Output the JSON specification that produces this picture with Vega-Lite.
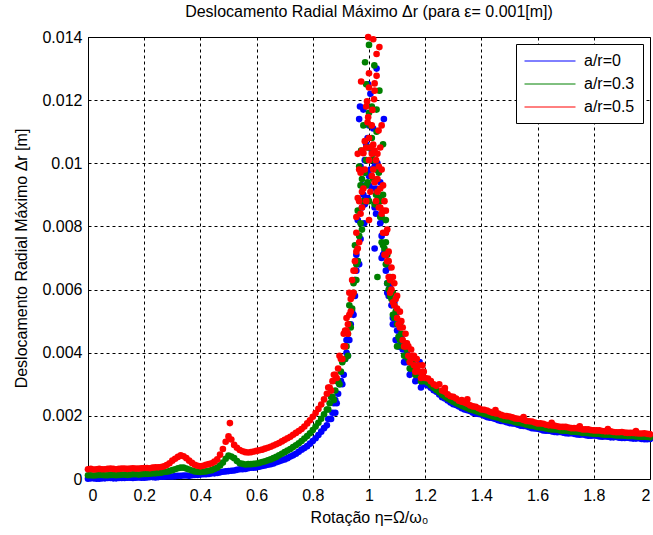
{
  "$schema": "https://vega.github.io/schema/vega-lite/v6.json",
  "autosize": {"type": "none"},
  "width": 562,
  "height": 442,
  "padding": {"left": 88, "top": 37, "right": 3, "bottom": 56},
  "background": "white",
  "title": {
    "text": "Deslocamento Radial Máximo Δr (para ε= 0.001[m])",
    "font": "Liberation Sans",
    "fontSize": 16,
    "fontWeight": "normal",
    "color": "black",
    "offset": 9
  },
  "config": {
    "view": {"stroke": "black", "strokeWidth": 1},
    "axis": {
      "domainColor": "black",
      "labelColor": "black",
      "titleColor": "black",
      "labelFont": "Liberation Sans",
      "titleFont": "Liberation Sans",
      "labelFontSize": 16,
      "titleFontSize": 16,
      "titleFontWeight": "normal",
      "ticks": false,
      "grid": true,
      "gridColor": "black",
      "gridDash": [3, 3],
      "gridOpacity": 1,
      "gridWidth": 1
    },
    "legend": {
      "labelFont": "Liberation Sans",
      "labelFontSize": 16,
      "labelColor": "black"
    }
  },
  "data": {
    "values": [
      {"eta":0,"dr":0.00001,"case":"a/r=0"},{"eta":0.02,"dr":0.00002,"case":"a/r=0"},{"eta":0.04,"dr":0.00001,"case":"a/r=0"},{"eta":0.06,"dr":0.00002,"case":"a/r=0"},{"eta":0.08,"dr":0.00003,"case":"a/r=0"},{"eta":0.1,"dr":0.00002,"case":"a/r=0"},{"eta":0.12,"dr":0.00003,"case":"a/r=0"},{"eta":0.14,"dr":0.00004,"case":"a/r=0"},{"eta":0.16,"dr":0.00003,"case":"a/r=0"},{"eta":0.18,"dr":0.00005,"case":"a/r=0"},{"eta":0.2,"dr":0.00004,"case":"a/r=0"},{"eta":0.22,"dr":0.00006,"case":"a/r=0"},{"eta":0.24,"dr":0.00005,"case":"a/r=0"},{"eta":0.26,"dr":0.00007,"case":"a/r=0"},{"eta":0.28,"dr":0.00008,"case":"a/r=0"},{"eta":0.3,"dr":0.00008,"case":"a/r=0"},{"eta":0.32,"dr":0.0001,"case":"a/r=0"},{"eta":0.34,"dr":0.00011,"case":"a/r=0"},{"eta":0.36,"dr":0.0001,"case":"a/r=0"},{"eta":0.38,"dr":0.00013,"case":"a/r=0"},{"eta":0.4,"dr":0.00014,"case":"a/r=0"},{"eta":0.42,"dr":0.00015,"case":"a/r=0"},{"eta":0.44,"dr":0.00018,"case":"a/r=0"},{"eta":0.46,"dr":0.00019,"case":"a/r=0"},{"eta":0.48,"dr":0.00023,"case":"a/r=0"},{"eta":0.5,"dr":0.00025,"case":"a/r=0"},{"eta":0.52,"dr":0.00027,"case":"a/r=0"},{"eta":0.54,"dr":0.00031,"case":"a/r=0"},{"eta":0.56,"dr":0.00032,"case":"a/r=0"},{"eta":0.58,"dr":0.00036,"case":"a/r=0"},{"eta":0.6,"dr":0.00037,"case":"a/r=0"},{"eta":0.62,"dr":0.00041,"case":"a/r=0"},{"eta":0.64,"dr":0.00045,"case":"a/r=0"},{"eta":0.66,"dr":0.00049,"case":"a/r=0"},{"eta":0.68,"dr":0.00056,"case":"a/r=0"},{"eta":0.7,"dr":0.00062,"case":"a/r=0"},{"eta":0.72,"dr":0.00071,"case":"a/r=0"},{"eta":0.74,"dr":0.0008,"case":"a/r=0"},{"eta":0.76,"dr":0.00093,"case":"a/r=0"},{"eta":0.78,"dr":0.00104,"case":"a/r=0"},{"eta":0.8,"dr":0.0012,"case":"a/r=0"},{"eta":0.82,"dr":0.00139,"case":"a/r=0"},{"eta":0.84,"dr":0.00161,"case":"a/r=0"},
      {"eta":0.01,"dr":0.00002,"case":"a/r=0"},{"eta":0.03,"dr":0.00001,"case":"a/r=0"},{"eta":0.05,"dr":0.00002,"case":"a/r=0"},{"eta":0.07,"dr":0.00003,"case":"a/r=0"},{"eta":0.09,"dr":0.00002,"case":"a/r=0"},{"eta":0.11,"dr":0.00003,"case":"a/r=0"},{"eta":0.13,"dr":0.00003,"case":"a/r=0"},{"eta":0.15,"dr":0.00004,"case":"a/r=0"},{"eta":0.17,"dr":0.00004,"case":"a/r=0"},{"eta":0.19,"dr":0.00004,"case":"a/r=0"},{"eta":0.21,"dr":0.00005,"case":"a/r=0"},{"eta":0.23,"dr":0.00006,"case":"a/r=0"},{"eta":0.25,"dr":0.00006,"case":"a/r=0"},{"eta":0.27,"dr":0.00007,"case":"a/r=0"},{"eta":0.29,"dr":0.00008,"case":"a/r=0"},{"eta":0.31,"dr":0.00009,"case":"a/r=0"},{"eta":0.33,"dr":0.0001,"case":"a/r=0"},{"eta":0.35,"dr":0.00011,"case":"a/r=0"},{"eta":0.37,"dr":0.00012,"case":"a/r=0"},{"eta":0.39,"dr":0.00013,"case":"a/r=0"},{"eta":0.41,"dr":0.00015,"case":"a/r=0"},{"eta":0.43,"dr":0.00016,"case":"a/r=0"},{"eta":0.45,"dr":0.00018,"case":"a/r=0"},{"eta":0.47,"dr":0.00021,"case":"a/r=0"},{"eta":0.49,"dr":0.00024,"case":"a/r=0"},{"eta":0.51,"dr":0.00026,"case":"a/r=0"},{"eta":0.53,"dr":0.00029,"case":"a/r=0"},{"eta":0.55,"dr":0.00031,"case":"a/r=0"},{"eta":0.57,"dr":0.00034,"case":"a/r=0"},{"eta":0.59,"dr":0.00036,"case":"a/r=0"},{"eta":0.61,"dr":0.00039,"case":"a/r=0"},{"eta":0.63,"dr":0.00043,"case":"a/r=0"},{"eta":0.65,"dr":0.00047,"case":"a/r=0"},{"eta":0.67,"dr":0.00053,"case":"a/r=0"},{"eta":0.69,"dr":0.00059,"case":"a/r=0"},{"eta":0.71,"dr":0.00066,"case":"a/r=0"},{"eta":0.73,"dr":0.00075,"case":"a/r=0"},{"eta":0.75,"dr":0.00086,"case":"a/r=0"},{"eta":0.77,"dr":0.00098,"case":"a/r=0"},{"eta":0.79,"dr":0.00112,"case":"a/r=0"},{"eta":0.81,"dr":0.00129,"case":"a/r=0"},{"eta":0.83,"dr":0.0015,"case":"a/r=0"},
      {"eta":0.85,"dr":0.0017,"case":"a/r=0"},{"eta":0.86,"dr":0.0019,"case":"a/r=0"},{"eta":0.87,"dr":0.0021,"case":"a/r=0"},{"eta":0.88,"dr":0.0025,"case":"a/r=0"},{"eta":0.89,"dr":0.0027,"case":"a/r=0"},{"eta":0.9,"dr":0.0031,"case":"a/r=0"},{"eta":0.91,"dr":0.0033,"case":"a/r=0"},{"eta":0.92,"dr":0.004,"case":"a/r=0"},{"eta":0.93,"dr":0.0044,"case":"a/r=0"},{"eta":0.94,"dr":0.0053,"case":"a/r=0"},{"eta":0.95,"dr":0.0058,"case":"a/r=0"},{"eta":0.96,"dr":0.0069,"case":"a/r=0"},{"eta":0.97,"dr":0.0076,"case":"a/r=0"},{"eta":0.98,"dr":0.009,"case":"a/r=0"},{"eta":0.99,"dr":0.0097,"case":"a/r=0"},{"eta":1,"dr":0.0112,"case":"a/r=0"},{"eta":1.01,"dr":0.0104,"case":"a/r=0"},{"eta":1.02,"dr":0.0099,"case":"a/r=0"},{"eta":1.03,"dr":0.0087,"case":"a/r=0"},{"eta":1.04,"dr":0.0081,"case":"a/r=0"},{"eta":1.05,"dr":0.0071,"case":"a/r=0"},{"eta":1.06,"dr":0.0066,"case":"a/r=0"},{"eta":1.07,"dr":0.0058,"case":"a/r=0"},{"eta":1.08,"dr":0.0055,"case":"a/r=0"},{"eta":1.09,"dr":0.0049,"case":"a/r=0"},{"eta":1.1,"dr":0.0047,"case":"a/r=0"},{"eta":1.11,"dr":0.0042,"case":"a/r=0"},{"eta":1.12,"dr":0.0041,"case":"a/r=0"},{"eta":1.13,"dr":0.0037,"case":"a/r=0"},{"eta":1.14,"dr":0.0037,"case":"a/r=0"},{"eta":1.15,"dr":0.0034,"case":"a/r=0"},{"eta":1.16,"dr":0.0034,"case":"a/r=0"},{"eta":1.17,"dr":0.0032,"case":"a/r=0"},{"eta":1.18,"dr":0.0032,"case":"a/r=0"},{"eta":1.19,"dr":0.003,"case":"a/r=0"},{"eta":1.2,"dr":0.003,"case":"a/r=0"},
      {"eta":0.855,"dr":0.0019,"case":"a/r=0"},{"eta":0.865,"dr":0.0019,"case":"a/r=0"},{"eta":0.875,"dr":0.0024,"case":"a/r=0"},{"eta":0.885,"dr":0.0024,"case":"a/r=0"},{"eta":0.895,"dr":0.003,"case":"a/r=0"},{"eta":0.905,"dr":0.003,"case":"a/r=0"},{"eta":0.915,"dr":0.0038,"case":"a/r=0"},{"eta":0.925,"dr":0.0039,"case":"a/r=0"},{"eta":0.945,"dr":0.0052,"case":"a/r=0"},{"eta":0.955,"dr":0.0066,"case":"a/r=0"},{"eta":0.965,"dr":0.0068,"case":"a/r=0"},{"eta":0.975,"dr":0.0086,"case":"a/r=0"},{"eta":0.985,"dr":0.0087,"case":"a/r=0"},{"eta":0.995,"dr":0.0108,"case":"a/r=0"},{"eta":1.005,"dr":0.0098,"case":"a/r=0"},{"eta":1.015,"dr":0.0101,"case":"a/r=0"},{"eta":1.025,"dr":0.0084,"case":"a/r=0"},{"eta":1.035,"dr":0.0088,"case":"a/r=0"},{"eta":1.045,"dr":0.007,"case":"a/r=0"},{"eta":1.055,"dr":0.0072,"case":"a/r=0"},{"eta":1.065,"dr":0.0059,"case":"a/r=0"},{"eta":1.075,"dr":0.0061,"case":"a/r=0"},{"eta":1.085,"dr":0.0049,"case":"a/r=0"},{"eta":1.095,"dr":0.0052,"case":"a/r=0"},{"eta":1.105,"dr":0.0042,"case":"a/r=0"},{"eta":1.115,"dr":0.0045,"case":"a/r=0"},{"eta":1.125,"dr":0.0037,"case":"a/r=0"},{"eta":1.135,"dr":0.004,"case":"a/r=0"},{"eta":1.145,"dr":0.0033,"case":"a/r=0"},{"eta":1.155,"dr":0.0036,"case":"a/r=0"},{"eta":1.165,"dr":0.0031,"case":"a/r=0"},{"eta":1.175,"dr":0.0034,"case":"a/r=0"},{"eta":1.185,"dr":0.0029,"case":"a/r=0"},{"eta":1.195,"dr":0.0031,"case":"a/r=0"},
      {"eta":1.22,"dr":0.00289,"case":"a/r=0"},{"eta":1.24,"dr":0.00276,"case":"a/r=0"},{"eta":1.26,"dr":0.00259,"case":"a/r=0"},{"eta":1.28,"dr":0.00249,"case":"a/r=0"},{"eta":1.3,"dr":0.00237,"case":"a/r=0"},{"eta":1.32,"dr":0.0023,"case":"a/r=0"},{"eta":1.34,"dr":0.0022,"case":"a/r=0"},{"eta":1.36,"dr":0.00215,"case":"a/r=0"},{"eta":1.38,"dr":0.00207,"case":"a/r=0"},{"eta":1.4,"dr":0.00204,"case":"a/r=0"},{"eta":1.42,"dr":0.00196,"case":"a/r=0"},{"eta":1.44,"dr":0.00193,"case":"a/r=0"},{"eta":1.46,"dr":0.00186,"case":"a/r=0"},{"eta":1.48,"dr":0.00183,"case":"a/r=0"},{"eta":1.5,"dr":0.00177,"case":"a/r=0"},{"eta":1.52,"dr":0.00175,"case":"a/r=0"},{"eta":1.54,"dr":0.00169,"case":"a/r=0"},{"eta":1.56,"dr":0.00167,"case":"a/r=0"},{"eta":1.58,"dr":0.00161,"case":"a/r=0"},{"eta":1.6,"dr":0.00159,"case":"a/r=0"},{"eta":1.62,"dr":0.00154,"case":"a/r=0"},{"eta":1.64,"dr":0.00153,"case":"a/r=0"},{"eta":1.66,"dr":0.00149,"case":"a/r=0"},{"eta":1.68,"dr":0.00149,"case":"a/r=0"},{"eta":1.7,"dr":0.00145,"case":"a/r=0"},{"eta":1.72,"dr":0.00145,"case":"a/r=0"},{"eta":1.74,"dr":0.00141,"case":"a/r=0"},{"eta":1.76,"dr":0.00141,"case":"a/r=0"},{"eta":1.78,"dr":0.00137,"case":"a/r=0"},{"eta":1.8,"dr":0.00138,"case":"a/r=0"},{"eta":1.82,"dr":0.00135,"case":"a/r=0"},{"eta":1.84,"dr":0.00135,"case":"a/r=0"},{"eta":1.86,"dr":0.00132,"case":"a/r=0"},{"eta":1.88,"dr":0.00133,"case":"a/r=0"},{"eta":1.9,"dr":0.0013,"case":"a/r=0"},{"eta":1.92,"dr":0.00131,"case":"a/r=0"},{"eta":1.94,"dr":0.00128,"case":"a/r=0"},{"eta":1.96,"dr":0.00129,"case":"a/r=0"},{"eta":1.98,"dr":0.00126,"case":"a/r=0"},{"eta":2,"dr":0.00127,"case":"a/r=0"},
      {"eta":1.21,"dr":0.00296,"case":"a/r=0"},{"eta":1.23,"dr":0.00281,"case":"a/r=0"},{"eta":1.25,"dr":0.00268,"case":"a/r=0"},{"eta":1.27,"dr":0.00255,"case":"a/r=0"},{"eta":1.29,"dr":0.00242,"case":"a/r=0"},{"eta":1.31,"dr":0.00234,"case":"a/r=0"},{"eta":1.33,"dr":0.00224,"case":"a/r=0"},{"eta":1.35,"dr":0.00218,"case":"a/r=0"},{"eta":1.37,"dr":0.0021,"case":"a/r=0"},{"eta":1.39,"dr":0.00206,"case":"a/r=0"},{"eta":1.41,"dr":0.002,"case":"a/r=0"},{"eta":1.43,"dr":0.00194,"case":"a/r=0"},{"eta":1.45,"dr":0.0019,"case":"a/r=0"},{"eta":1.47,"dr":0.00184,"case":"a/r=0"},{"eta":1.49,"dr":0.0018,"case":"a/r=0"},{"eta":1.51,"dr":0.00176,"case":"a/r=0"},{"eta":1.53,"dr":0.00172,"case":"a/r=0"},{"eta":1.55,"dr":0.00168,"case":"a/r=0"},{"eta":1.57,"dr":0.00164,"case":"a/r=0"},{"eta":1.59,"dr":0.0016,"case":"a/r=0"},{"eta":1.61,"dr":0.00157,"case":"a/r=0"},{"eta":1.63,"dr":0.00153,"case":"a/r=0"},{"eta":1.65,"dr":0.00151,"case":"a/r=0"},{"eta":1.67,"dr":0.00148,"case":"a/r=0"},{"eta":1.69,"dr":0.00147,"case":"a/r=0"},{"eta":1.71,"dr":0.00144,"case":"a/r=0"},{"eta":1.73,"dr":0.00143,"case":"a/r=0"},{"eta":1.75,"dr":0.0014,"case":"a/r=0"},{"eta":1.77,"dr":0.00139,"case":"a/r=0"},{"eta":1.79,"dr":0.00137,"case":"a/r=0"},{"eta":1.81,"dr":0.00137,"case":"a/r=0"},{"eta":1.83,"dr":0.00134,"case":"a/r=0"},{"eta":1.85,"dr":0.00134,"case":"a/r=0"},{"eta":1.87,"dr":0.00132,"case":"a/r=0"},{"eta":1.89,"dr":0.00131,"case":"a/r=0"},{"eta":1.91,"dr":0.0013,"case":"a/r=0"},{"eta":1.93,"dr":0.00129,"case":"a/r=0"},{"eta":1.95,"dr":0.00128,"case":"a/r=0"},{"eta":1.97,"dr":0.00127,"case":"a/r=0"},{"eta":1.99,"dr":0.00126,"case":"a/r=0"},
      {"eta":0.965,"dr":0.0114,"case":"a/r=0"},{"eta":0.968,"dr":0.0118,"case":"a/r=0"},{"eta":0.997,"dr":0.0125,"case":"a/r=0"},{"eta":1.005,"dr":0.0122,"case":"a/r=0"},{"eta":1.027,"dr":0.013,"case":"a/r=0"},{"eta":1.053,"dr":0.0114,"case":"a/r=0"},{"eta":0.99,"dr":0.0106,"case":"a/r=0"},{"eta":0.975,"dr":0.0093,"case":"a/r=0"},{"eta":1.012,"dr":0.0092,"case":"a/r=0"},{"eta":0.983,"dr":0.0081,"case":"a/r=0"},{"eta":1.02,"dr":0.0073,"case":"a/r=0"},{"eta":1.045,"dr":0.0077,"case":"a/r=0"},{"eta":0.955,"dr":0.0071,"case":"a/r=0"},{"eta":1.065,"dr":0.0062,"case":"a/r=0"},{"eta":0.935,"dr":0.0049,"case":"a/r=0"},{"eta":1.085,"dr":0.0051,"case":"a/r=0"},{"eta":1,"dr":0.0096,"case":"a/r=0"},{"eta":1.03,"dr":0.01,"case":"a/r=0"},{"eta":0.96,"dr":0.0082,"case":"a/r=0"},{"eta":1.095,"dr":0.0044,"case":"a/r=0"},{"eta":1.18,"dr":0.0037,"case":"a/r=0"},{"eta":0.88,"dr":0.0021,"case":"a/r=0"},{"eta":0.97,"dr":0.0099,"case":"a/r=0"},{"eta":0.995,"dr":0.0089,"case":"a/r=0"},{"eta":1.015,"dr":0.0111,"case":"a/r=0"},{"eta":1.04,"dr":0.0094,"case":"a/r=0"},{"eta":1.06,"dr":0.0078,"case":"a/r=0"},{"eta":0.98,"dr":0.0117,"case":"a/r=0"},{"eta":1.02,"dr":0.0086,"case":"a/r=0"},{"eta":0.985,"dr":0.0101,"case":"a/r=0"},{"eta":1,"dr":0.0093,"case":"a/r=0"},{"eta":1.025,"dr":0.0092,"case":"a/r=0"},{"eta":1.05,"dr":0.0082,"case":"a/r=0"},{"eta":0.95,"dr":0.0063,"case":"a/r=0"},{"eta":1.07,"dr":0.0067,"case":"a/r=0"},{"eta":1.09,"dr":0.0056,"case":"a/r=0"},{"eta":0.92,"dr":0.0044,"case":"a/r=0"},

      {"eta":0,"dr":0.00012,"case":"a/r=0.3"},{"eta":0.02,"dr":0.00011,"case":"a/r=0.3"},{"eta":0.04,"dr":0.00013,"case":"a/r=0.3"},{"eta":0.06,"dr":0.00012,"case":"a/r=0.3"},{"eta":0.08,"dr":0.00013,"case":"a/r=0.3"},{"eta":0.1,"dr":0.00012,"case":"a/r=0.3"},{"eta":0.12,"dr":0.00014,"case":"a/r=0.3"},{"eta":0.14,"dr":0.00013,"case":"a/r=0.3"},{"eta":0.16,"dr":0.00015,"case":"a/r=0.3"},{"eta":0.18,"dr":0.00014,"case":"a/r=0.3"},{"eta":0.2,"dr":0.00016,"case":"a/r=0.3"},{"eta":0.22,"dr":0.00017,"case":"a/r=0.3"},{"eta":0.24,"dr":0.00018,"case":"a/r=0.3"},{"eta":0.26,"dr":0.0002,"case":"a/r=0.3"},{"eta":0.28,"dr":0.00023,"case":"a/r=0.3"},{"eta":0.3,"dr":0.00028,"case":"a/r=0.3"},{"eta":0.32,"dr":0.00034,"case":"a/r=0.3"},{"eta":0.34,"dr":0.00036,"case":"a/r=0.3"},{"eta":0.36,"dr":0.0003,"case":"a/r=0.3"},{"eta":0.38,"dr":0.00024,"case":"a/r=0.3"},{"eta":0.4,"dr":0.00022,"case":"a/r=0.3"},{"eta":0.42,"dr":0.00024,"case":"a/r=0.3"},{"eta":0.44,"dr":0.00028,"case":"a/r=0.3"},{"eta":0.46,"dr":0.00036,"case":"a/r=0.3"},{"eta":0.48,"dr":0.00052,"case":"a/r=0.3"},{"eta":0.5,"dr":0.00074,"case":"a/r=0.3"},{"eta":0.52,"dr":0.00066,"case":"a/r=0.3"},{"eta":0.54,"dr":0.0005,"case":"a/r=0.3"},{"eta":0.56,"dr":0.00046,"case":"a/r=0.3"},{"eta":0.58,"dr":0.00047,"case":"a/r=0.3"},{"eta":0.6,"dr":0.00049,"case":"a/r=0.3"},{"eta":0.62,"dr":0.00054,"case":"a/r=0.3"},{"eta":0.64,"dr":0.00059,"case":"a/r=0.3"},{"eta":0.66,"dr":0.00066,"case":"a/r=0.3"},{"eta":0.68,"dr":0.00075,"case":"a/r=0.3"},{"eta":0.7,"dr":0.00085,"case":"a/r=0.3"},{"eta":0.72,"dr":0.00095,"case":"a/r=0.3"},{"eta":0.74,"dr":0.00107,"case":"a/r=0.3"},{"eta":0.76,"dr":0.0012,"case":"a/r=0.3"},{"eta":0.78,"dr":0.00136,"case":"a/r=0.3"},{"eta":0.8,"dr":0.00155,"case":"a/r=0.3"},{"eta":0.82,"dr":0.00178,"case":"a/r=0.3"},{"eta":0.84,"dr":0.00205,"case":"a/r=0.3"},
      {"eta":0.01,"dr":0.00012,"case":"a/r=0.3"},{"eta":0.03,"dr":0.00012,"case":"a/r=0.3"},{"eta":0.05,"dr":0.00013,"case":"a/r=0.3"},{"eta":0.07,"dr":0.00012,"case":"a/r=0.3"},{"eta":0.09,"dr":0.00013,"case":"a/r=0.3"},{"eta":0.11,"dr":0.00013,"case":"a/r=0.3"},{"eta":0.13,"dr":0.00014,"case":"a/r=0.3"},{"eta":0.15,"dr":0.00014,"case":"a/r=0.3"},{"eta":0.17,"dr":0.00015,"case":"a/r=0.3"},{"eta":0.19,"dr":0.00015,"case":"a/r=0.3"},{"eta":0.21,"dr":0.00016,"case":"a/r=0.3"},{"eta":0.23,"dr":0.00018,"case":"a/r=0.3"},{"eta":0.25,"dr":0.00019,"case":"a/r=0.3"},{"eta":0.27,"dr":0.00022,"case":"a/r=0.3"},{"eta":0.29,"dr":0.00025,"case":"a/r=0.3"},{"eta":0.31,"dr":0.00031,"case":"a/r=0.3"},{"eta":0.33,"dr":0.00036,"case":"a/r=0.3"},{"eta":0.35,"dr":0.00033,"case":"a/r=0.3"},{"eta":0.37,"dr":0.00027,"case":"a/r=0.3"},{"eta":0.39,"dr":0.00023,"case":"a/r=0.3"},{"eta":0.41,"dr":0.00023,"case":"a/r=0.3"},{"eta":0.43,"dr":0.00026,"case":"a/r=0.3"},{"eta":0.45,"dr":0.00032,"case":"a/r=0.3"},{"eta":0.47,"dr":0.00043,"case":"a/r=0.3"},{"eta":0.49,"dr":0.00064,"case":"a/r=0.3"},{"eta":0.51,"dr":0.00071,"case":"a/r=0.3"},{"eta":0.53,"dr":0.00057,"case":"a/r=0.3"},{"eta":0.55,"dr":0.00048,"case":"a/r=0.3"},{"eta":0.57,"dr":0.00047,"case":"a/r=0.3"},{"eta":0.59,"dr":0.00048,"case":"a/r=0.3"},{"eta":0.61,"dr":0.00051,"case":"a/r=0.3"},{"eta":0.63,"dr":0.00056,"case":"a/r=0.3"},{"eta":0.65,"dr":0.00062,"case":"a/r=0.3"},{"eta":0.67,"dr":0.0007,"case":"a/r=0.3"},{"eta":0.69,"dr":0.0008,"case":"a/r=0.3"},{"eta":0.71,"dr":0.0009,"case":"a/r=0.3"},{"eta":0.73,"dr":0.00101,"case":"a/r=0.3"},{"eta":0.75,"dr":0.00113,"case":"a/r=0.3"},{"eta":0.77,"dr":0.00128,"case":"a/r=0.3"},{"eta":0.79,"dr":0.00145,"case":"a/r=0.3"},{"eta":0.81,"dr":0.00166,"case":"a/r=0.3"},{"eta":0.83,"dr":0.00191,"case":"a/r=0.3"},
      {"eta":0.85,"dr":0.0022,"case":"a/r=0.3"},{"eta":0.86,"dr":0.0024,"case":"a/r=0.3"},{"eta":0.87,"dr":0.0026,"case":"a/r=0.3"},{"eta":0.88,"dr":0.0028,"case":"a/r=0.3"},{"eta":0.89,"dr":0.0031,"case":"a/r=0.3"},{"eta":0.9,"dr":0.0034,"case":"a/r=0.3"},{"eta":0.91,"dr":0.0038,"case":"a/r=0.3"},{"eta":0.92,"dr":0.0042,"case":"a/r=0.3"},{"eta":0.93,"dr":0.0049,"case":"a/r=0.3"},{"eta":0.94,"dr":0.0054,"case":"a/r=0.3"},{"eta":0.95,"dr":0.0063,"case":"a/r=0.3"},{"eta":0.96,"dr":0.0069,"case":"a/r=0.3"},{"eta":0.97,"dr":0.0081,"case":"a/r=0.3"},{"eta":0.98,"dr":0.0088,"case":"a/r=0.3"},{"eta":0.99,"dr":0.0101,"case":"a/r=0.3"},{"eta":1,"dr":0.0116,"case":"a/r=0.3"},{"eta":1.01,"dr":0.0108,"case":"a/r=0.3"},{"eta":1.02,"dr":0.0101,"case":"a/r=0.3"},{"eta":1.03,"dr":0.0091,"case":"a/r=0.3"},{"eta":1.04,"dr":0.0083,"case":"a/r=0.3"},{"eta":1.05,"dr":0.0074,"case":"a/r=0.3"},{"eta":1.06,"dr":0.0068,"case":"a/r=0.3"},{"eta":1.07,"dr":0.006,"case":"a/r=0.3"},{"eta":1.08,"dr":0.0057,"case":"a/r=0.3"},{"eta":1.09,"dr":0.0051,"case":"a/r=0.3"},{"eta":1.1,"dr":0.0049,"case":"a/r=0.3"},{"eta":1.11,"dr":0.0044,"case":"a/r=0.3"},{"eta":1.12,"dr":0.0042,"case":"a/r=0.3"},{"eta":1.13,"dr":0.0039,"case":"a/r=0.3"},{"eta":1.14,"dr":0.0038,"case":"a/r=0.3"},{"eta":1.15,"dr":0.0035,"case":"a/r=0.3"},{"eta":1.16,"dr":0.0035,"case":"a/r=0.3"},{"eta":1.17,"dr":0.0033,"case":"a/r=0.3"},{"eta":1.18,"dr":0.0033,"case":"a/r=0.3"},{"eta":1.19,"dr":0.0031,"case":"a/r=0.3"},{"eta":1.2,"dr":0.0031,"case":"a/r=0.3"},
      {"eta":0.855,"dr":0.0022,"case":"a/r=0.3"},{"eta":0.865,"dr":0.0026,"case":"a/r=0.3"},{"eta":0.875,"dr":0.0025,"case":"a/r=0.3"},{"eta":0.885,"dr":0.0031,"case":"a/r=0.3"},{"eta":0.895,"dr":0.003,"case":"a/r=0.3"},{"eta":0.905,"dr":0.0037,"case":"a/r=0.3"},{"eta":0.915,"dr":0.0038,"case":"a/r=0.3"},{"eta":0.925,"dr":0.0046,"case":"a/r=0.3"},{"eta":0.935,"dr":0.0048,"case":"a/r=0.3"},{"eta":0.945,"dr":0.0059,"case":"a/r=0.3"},{"eta":0.955,"dr":0.0063,"case":"a/r=0.3"},{"eta":0.965,"dr":0.0077,"case":"a/r=0.3"},{"eta":0.975,"dr":0.0079,"case":"a/r=0.3"},{"eta":0.985,"dr":0.0097,"case":"a/r=0.3"},{"eta":0.995,"dr":0.0105,"case":"a/r=0.3"},{"eta":1.005,"dr":0.0101,"case":"a/r=0.3"},{"eta":1.015,"dr":0.0103,"case":"a/r=0.3"},{"eta":1.025,"dr":0.009,"case":"a/r=0.3"},{"eta":1.035,"dr":0.0089,"case":"a/r=0.3"},{"eta":1.045,"dr":0.0075,"case":"a/r=0.3"},{"eta":1.055,"dr":0.0073,"case":"a/r=0.3"},{"eta":1.065,"dr":0.0062,"case":"a/r=0.3"},{"eta":1.075,"dr":0.0064,"case":"a/r=0.3"},{"eta":1.085,"dr":0.0052,"case":"a/r=0.3"},{"eta":1.095,"dr":0.0053,"case":"a/r=0.3"},{"eta":1.105,"dr":0.0045,"case":"a/r=0.3"},{"eta":1.115,"dr":0.0046,"case":"a/r=0.3"},{"eta":1.125,"dr":0.0039,"case":"a/r=0.3"},{"eta":1.135,"dr":0.0041,"case":"a/r=0.3"},{"eta":1.145,"dr":0.0035,"case":"a/r=0.3"},{"eta":1.155,"dr":0.0037,"case":"a/r=0.3"},{"eta":1.165,"dr":0.0033,"case":"a/r=0.3"},{"eta":1.175,"dr":0.0034,"case":"a/r=0.3"},{"eta":1.185,"dr":0.0031,"case":"a/r=0.3"},{"eta":1.195,"dr":0.0032,"case":"a/r=0.3"},
      {"eta":1.22,"dr":0.00297,"case":"a/r=0.3"},{"eta":1.24,"dr":0.00282,"case":"a/r=0.3"},{"eta":1.26,"dr":0.00267,"case":"a/r=0.3"},{"eta":1.28,"dr":0.00255,"case":"a/r=0.3"},{"eta":1.3,"dr":0.00245,"case":"a/r=0.3"},{"eta":1.32,"dr":0.00236,"case":"a/r=0.3"},{"eta":1.34,"dr":0.00228,"case":"a/r=0.3"},{"eta":1.36,"dr":0.0022,"case":"a/r=0.3"},{"eta":1.38,"dr":0.00215,"case":"a/r=0.3"},{"eta":1.4,"dr":0.00209,"case":"a/r=0.3"},{"eta":1.42,"dr":0.00204,"case":"a/r=0.3"},{"eta":1.44,"dr":0.00198,"case":"a/r=0.3"},{"eta":1.46,"dr":0.00194,"case":"a/r=0.3"},{"eta":1.48,"dr":0.00188,"case":"a/r=0.3"},{"eta":1.5,"dr":0.00185,"case":"a/r=0.3"},{"eta":1.52,"dr":0.0018,"case":"a/r=0.3"},{"eta":1.54,"dr":0.00177,"case":"a/r=0.3"},{"eta":1.56,"dr":0.00172,"case":"a/r=0.3"},{"eta":1.58,"dr":0.00169,"case":"a/r=0.3"},{"eta":1.6,"dr":0.00164,"case":"a/r=0.3"},{"eta":1.62,"dr":0.00162,"case":"a/r=0.3"},{"eta":1.64,"dr":0.00158,"case":"a/r=0.3"},{"eta":1.66,"dr":0.00157,"case":"a/r=0.3"},{"eta":1.68,"dr":0.00154,"case":"a/r=0.3"},{"eta":1.7,"dr":0.00153,"case":"a/r=0.3"},{"eta":1.72,"dr":0.0015,"case":"a/r=0.3"},{"eta":1.74,"dr":0.00149,"case":"a/r=0.3"},{"eta":1.76,"dr":0.00146,"case":"a/r=0.3"},{"eta":1.78,"dr":0.00145,"case":"a/r=0.3"},{"eta":1.8,"dr":0.00143,"case":"a/r=0.3"},{"eta":1.82,"dr":0.00143,"case":"a/r=0.3"},{"eta":1.84,"dr":0.0014,"case":"a/r=0.3"},{"eta":1.86,"dr":0.0014,"case":"a/r=0.3"},{"eta":1.88,"dr":0.00138,"case":"a/r=0.3"},{"eta":1.9,"dr":0.00138,"case":"a/r=0.3"},{"eta":1.92,"dr":0.00136,"case":"a/r=0.3"},{"eta":1.94,"dr":0.00136,"case":"a/r=0.3"},{"eta":1.96,"dr":0.00134,"case":"a/r=0.3"},{"eta":1.98,"dr":0.00134,"case":"a/r=0.3"},{"eta":2,"dr":0.00132,"case":"a/r=0.3"},
      {"eta":1.21,"dr":0.00305,"case":"a/r=0.3"},{"eta":1.23,"dr":0.00289,"case":"a/r=0.3"},{"eta":1.25,"dr":0.00275,"case":"a/r=0.3"},{"eta":1.27,"dr":0.00261,"case":"a/r=0.3"},{"eta":1.29,"dr":0.0025,"case":"a/r=0.3"},{"eta":1.31,"dr":0.0024,"case":"a/r=0.3"},{"eta":1.33,"dr":0.00232,"case":"a/r=0.3"},{"eta":1.35,"dr":0.00224,"case":"a/r=0.3"},{"eta":1.37,"dr":0.00218,"case":"a/r=0.3"},{"eta":1.39,"dr":0.00212,"case":"a/r=0.3"},{"eta":1.41,"dr":0.00206,"case":"a/r=0.3"},{"eta":1.43,"dr":0.00201,"case":"a/r=0.3"},{"eta":1.45,"dr":0.00196,"case":"a/r=0.3"},{"eta":1.47,"dr":0.00191,"case":"a/r=0.3"},{"eta":1.49,"dr":0.00186,"case":"a/r=0.3"},{"eta":1.51,"dr":0.00183,"case":"a/r=0.3"},{"eta":1.53,"dr":0.00178,"case":"a/r=0.3"},{"eta":1.55,"dr":0.00175,"case":"a/r=0.3"},{"eta":1.57,"dr":0.0017,"case":"a/r=0.3"},{"eta":1.59,"dr":0.00167,"case":"a/r=0.3"},{"eta":1.61,"dr":0.00163,"case":"a/r=0.3"},{"eta":1.63,"dr":0.0016,"case":"a/r=0.3"},{"eta":1.65,"dr":0.00157,"case":"a/r=0.3"},{"eta":1.67,"dr":0.00156,"case":"a/r=0.3"},{"eta":1.69,"dr":0.00153,"case":"a/r=0.3"},{"eta":1.71,"dr":0.00152,"case":"a/r=0.3"},{"eta":1.73,"dr":0.0015,"case":"a/r=0.3"},{"eta":1.75,"dr":0.00148,"case":"a/r=0.3"},{"eta":1.77,"dr":0.00146,"case":"a/r=0.3"},{"eta":1.79,"dr":0.00144,"case":"a/r=0.3"},{"eta":1.81,"dr":0.00143,"case":"a/r=0.3"},{"eta":1.83,"dr":0.00141,"case":"a/r=0.3"},{"eta":1.85,"dr":0.0014,"case":"a/r=0.3"},{"eta":1.87,"dr":0.00139,"case":"a/r=0.3"},{"eta":1.89,"dr":0.00138,"case":"a/r=0.3"},{"eta":1.91,"dr":0.00137,"case":"a/r=0.3"},{"eta":1.93,"dr":0.00136,"case":"a/r=0.3"},{"eta":1.95,"dr":0.00135,"case":"a/r=0.3"},{"eta":1.97,"dr":0.00134,"case":"a/r=0.3"},{"eta":1.99,"dr":0.00133,"case":"a/r=0.3"},
      {"eta":1,"dr":0.01375,"case":"a/r=0.3"},{"eta":0.986,"dr":0.0132,"case":"a/r=0.3"},{"eta":1.019,"dr":0.0131,"case":"a/r=0.3"},{"eta":1.037,"dr":0.0123,"case":"a/r=0.3"},{"eta":1.027,"dr":0.0117,"case":"a/r=0.3"},{"eta":1.005,"dr":0.0112,"case":"a/r=0.3"},{"eta":1.027,"dr":0.011,"case":"a/r=0.3"},{"eta":1.05,"dr":0.0106,"case":"a/r=0.3"},{"eta":0.972,"dr":0.0104,"case":"a/r=0.3"},{"eta":0.99,"dr":0.0093,"case":"a/r=0.3"},{"eta":1.015,"dr":0.0095,"case":"a/r=0.3"},{"eta":0.96,"dr":0.0085,"case":"a/r=0.3"},{"eta":1.04,"dr":0.0088,"case":"a/r=0.3"},{"eta":0.95,"dr":0.0074,"case":"a/r=0.3"},{"eta":1.06,"dr":0.0075,"case":"a/r=0.3"},{"eta":1.03,"dr":0.0064,"case":"a/r=0.3"},{"eta":0.945,"dr":0.0062,"case":"a/r=0.3"},{"eta":1.075,"dr":0.0058,"case":"a/r=0.3"},{"eta":0.93,"dr":0.0055,"case":"a/r=0.3"},{"eta":1.09,"dr":0.0055,"case":"a/r=0.3"},{"eta":1.1,"dr":0.0042,"case":"a/r=0.3"},{"eta":0.925,"dr":0.0039,"case":"a/r=0.3"},{"eta":0.97,"dr":0.0093,"case":"a/r=0.3"},{"eta":1,"dr":0.0088,"case":"a/r=0.3"},{"eta":1.02,"dr":0.0087,"case":"a/r=0.3"},{"eta":1.035,"dr":0.0097,"case":"a/r=0.3"},{"eta":1.05,"dr":0.009,"case":"a/r=0.3"},{"eta":0.98,"dr":0.0112,"case":"a/r=0.3"},{"eta":1.01,"dr":0.0118,"case":"a/r=0.3"},{"eta":0.965,"dr":0.0099,"case":"a/r=0.3"},{"eta":1.06,"dr":0.0082,"case":"a/r=0.3"},{"eta":0.99,"dr":0.0125,"case":"a/r=0.3"},{"eta":0.975,"dr":0.0095,"case":"a/r=0.3"},{"eta":0.995,"dr":0.0094,"case":"a/r=0.3"},{"eta":1.005,"dr":0.0105,"case":"a/r=0.3"},{"eta":1.025,"dr":0.0098,"case":"a/r=0.3"},{"eta":1.045,"dr":0.0083,"case":"a/r=0.3"},{"eta":1.065,"dr":0.0071,"case":"a/r=0.3"},{"eta":1.085,"dr":0.0059,"case":"a/r=0.3"},{"eta":0.955,"dr":0.0068,"case":"a/r=0.3"},{"eta":0.94,"dr":0.0058,"case":"a/r=0.3"},{"eta":1.11,"dr":0.0049,"case":"a/r=0.3"},{"eta":1.13,"dr":0.0043,"case":"a/r=0.3"},

      {"eta":0,"dr":0.00031,"case":"a/r=0.5"},{"eta":0.02,"dr":0.0003,"case":"a/r=0.5"},{"eta":0.04,"dr":0.00032,"case":"a/r=0.5"},{"eta":0.06,"dr":0.00031,"case":"a/r=0.5"},{"eta":0.08,"dr":0.00033,"case":"a/r=0.5"},{"eta":0.1,"dr":0.00031,"case":"a/r=0.5"},{"eta":0.12,"dr":0.00033,"case":"a/r=0.5"},{"eta":0.14,"dr":0.00032,"case":"a/r=0.5"},{"eta":0.16,"dr":0.00034,"case":"a/r=0.5"},{"eta":0.18,"dr":0.00033,"case":"a/r=0.5"},{"eta":0.2,"dr":0.00035,"case":"a/r=0.5"},{"eta":0.22,"dr":0.00034,"case":"a/r=0.5"},{"eta":0.24,"dr":0.00037,"case":"a/r=0.5"},{"eta":0.26,"dr":0.00038,"case":"a/r=0.5"},{"eta":0.28,"dr":0.00044,"case":"a/r=0.5"},{"eta":0.3,"dr":0.00058,"case":"a/r=0.5"},{"eta":0.32,"dr":0.0007,"case":"a/r=0.5"},{"eta":0.33,"dr":0.00075,"case":"a/r=0.5"},{"eta":0.34,"dr":0.00072,"case":"a/r=0.5"},{"eta":0.36,"dr":0.00058,"case":"a/r=0.5"},{"eta":0.38,"dr":0.00045,"case":"a/r=0.5"},{"eta":0.4,"dr":0.0004,"case":"a/r=0.5"},{"eta":0.42,"dr":0.00045,"case":"a/r=0.5"},{"eta":0.44,"dr":0.0005,"case":"a/r=0.5"},{"eta":0.46,"dr":0.00062,"case":"a/r=0.5"},{"eta":0.48,"dr":0.00095,"case":"a/r=0.5"},{"eta":0.49,"dr":0.00118,"case":"a/r=0.5"},{"eta":0.5,"dr":0.00135,"case":"a/r=0.5"},{"eta":0.505,"dr":0.00177,"case":"a/r=0.5"},{"eta":0.51,"dr":0.00125,"case":"a/r=0.5"},{"eta":0.52,"dr":0.00108,"case":"a/r=0.5"},{"eta":0.54,"dr":0.00092,"case":"a/r=0.5"},{"eta":0.56,"dr":0.00085,"case":"a/r=0.5"},{"eta":0.58,"dr":0.00085,"case":"a/r=0.5"},{"eta":0.6,"dr":0.00089,"case":"a/r=0.5"},{"eta":0.62,"dr":0.00093,"case":"a/r=0.5"},{"eta":0.64,"dr":0.00099,"case":"a/r=0.5"},{"eta":0.66,"dr":0.00106,"case":"a/r=0.5"},{"eta":0.68,"dr":0.00114,"case":"a/r=0.5"},{"eta":0.7,"dr":0.00124,"case":"a/r=0.5"},{"eta":0.72,"dr":0.00134,"case":"a/r=0.5"},{"eta":0.74,"dr":0.00146,"case":"a/r=0.5"},{"eta":0.76,"dr":0.00158,"case":"a/r=0.5"},{"eta":0.78,"dr":0.00176,"case":"a/r=0.5"},{"eta":0.8,"dr":0.00197,"case":"a/r=0.5"},{"eta":0.82,"dr":0.00222,"case":"a/r=0.5"},{"eta":0.84,"dr":0.00252,"case":"a/r=0.5"},
      {"eta":0.01,"dr":0.00032,"case":"a/r=0.5"},{"eta":0.03,"dr":0.00031,"case":"a/r=0.5"},{"eta":0.05,"dr":0.00031,"case":"a/r=0.5"},{"eta":0.07,"dr":0.00032,"case":"a/r=0.5"},{"eta":0.09,"dr":0.00032,"case":"a/r=0.5"},{"eta":0.11,"dr":0.00032,"case":"a/r=0.5"},{"eta":0.13,"dr":0.00033,"case":"a/r=0.5"},{"eta":0.15,"dr":0.00033,"case":"a/r=0.5"},{"eta":0.17,"dr":0.00033,"case":"a/r=0.5"},{"eta":0.19,"dr":0.00034,"case":"a/r=0.5"},{"eta":0.21,"dr":0.00035,"case":"a/r=0.5"},{"eta":0.23,"dr":0.00036,"case":"a/r=0.5"},{"eta":0.25,"dr":0.00037,"case":"a/r=0.5"},{"eta":0.27,"dr":0.0004,"case":"a/r=0.5"},{"eta":0.29,"dr":0.0005,"case":"a/r=0.5"},{"eta":0.31,"dr":0.00064,"case":"a/r=0.5"},{"eta":0.35,"dr":0.00066,"case":"a/r=0.5"},{"eta":0.37,"dr":0.00051,"case":"a/r=0.5"},{"eta":0.39,"dr":0.00042,"case":"a/r=0.5"},{"eta":0.41,"dr":0.00042,"case":"a/r=0.5"},{"eta":0.43,"dr":0.00047,"case":"a/r=0.5"},{"eta":0.45,"dr":0.00055,"case":"a/r=0.5"},{"eta":0.47,"dr":0.00077,"case":"a/r=0.5"},{"eta":0.53,"dr":0.00099,"case":"a/r=0.5"},{"eta":0.55,"dr":0.00088,"case":"a/r=0.5"},{"eta":0.57,"dr":0.00084,"case":"a/r=0.5"},{"eta":0.59,"dr":0.00087,"case":"a/r=0.5"},{"eta":0.61,"dr":0.00091,"case":"a/r=0.5"},{"eta":0.63,"dr":0.00096,"case":"a/r=0.5"},{"eta":0.65,"dr":0.00102,"case":"a/r=0.5"},{"eta":0.67,"dr":0.0011,"case":"a/r=0.5"},{"eta":0.69,"dr":0.00119,"case":"a/r=0.5"},{"eta":0.71,"dr":0.00129,"case":"a/r=0.5"},{"eta":0.73,"dr":0.0014,"case":"a/r=0.5"},{"eta":0.75,"dr":0.00152,"case":"a/r=0.5"},{"eta":0.77,"dr":0.00166,"case":"a/r=0.5"},{"eta":0.79,"dr":0.00186,"case":"a/r=0.5"},{"eta":0.81,"dr":0.00209,"case":"a/r=0.5"},{"eta":0.83,"dr":0.00236,"case":"a/r=0.5"},
      {"eta":0.85,"dr":0.0027,"case":"a/r=0.5"},{"eta":0.86,"dr":0.0029,"case":"a/r=0.5"},{"eta":0.87,"dr":0.0031,"case":"a/r=0.5"},{"eta":0.88,"dr":0.0033,"case":"a/r=0.5"},{"eta":0.89,"dr":0.0035,"case":"a/r=0.5"},{"eta":0.9,"dr":0.0038,"case":"a/r=0.5"},{"eta":0.91,"dr":0.0042,"case":"a/r=0.5"},{"eta":0.92,"dr":0.0047,"case":"a/r=0.5"},{"eta":0.93,"dr":0.0052,"case":"a/r=0.5"},{"eta":0.94,"dr":0.0058,"case":"a/r=0.5"},{"eta":0.95,"dr":0.0066,"case":"a/r=0.5"},{"eta":0.96,"dr":0.0073,"case":"a/r=0.5"},{"eta":0.97,"dr":0.0084,"case":"a/r=0.5"},{"eta":0.98,"dr":0.0092,"case":"a/r=0.5"},{"eta":0.99,"dr":0.0105,"case":"a/r=0.5"},{"eta":1,"dr":0.0124,"case":"a/r=0.5"},{"eta":1.01,"dr":0.0112,"case":"a/r=0.5"},{"eta":1.02,"dr":0.0104,"case":"a/r=0.5"},{"eta":1.03,"dr":0.0095,"case":"a/r=0.5"},{"eta":1.04,"dr":0.0086,"case":"a/r=0.5"},{"eta":1.05,"dr":0.0078,"case":"a/r=0.5"},{"eta":1.06,"dr":0.0071,"case":"a/r=0.5"},{"eta":1.07,"dr":0.0064,"case":"a/r=0.5"},{"eta":1.08,"dr":0.006,"case":"a/r=0.5"},{"eta":1.09,"dr":0.0055,"case":"a/r=0.5"},{"eta":1.1,"dr":0.0051,"case":"a/r=0.5"},{"eta":1.11,"dr":0.0048,"case":"a/r=0.5"},{"eta":1.12,"dr":0.0044,"case":"a/r=0.5"},{"eta":1.13,"dr":0.0042,"case":"a/r=0.5"},{"eta":1.14,"dr":0.0039,"case":"a/r=0.5"},{"eta":1.15,"dr":0.0038,"case":"a/r=0.5"},{"eta":1.16,"dr":0.0036,"case":"a/r=0.5"},{"eta":1.17,"dr":0.0035,"case":"a/r=0.5"},{"eta":1.18,"dr":0.0034,"case":"a/r=0.5"},{"eta":1.19,"dr":0.0033,"case":"a/r=0.5"},{"eta":1.2,"dr":0.0032,"case":"a/r=0.5"},
      {"eta":0.855,"dr":0.0029,"case":"a/r=0.5"},{"eta":0.865,"dr":0.0028,"case":"a/r=0.5"},{"eta":0.875,"dr":0.0033,"case":"a/r=0.5"},{"eta":0.885,"dr":0.0032,"case":"a/r=0.5"},{"eta":0.895,"dr":0.0039,"case":"a/r=0.5"},{"eta":0.905,"dr":0.0038,"case":"a/r=0.5"},{"eta":0.915,"dr":0.0047,"case":"a/r=0.5"},{"eta":0.925,"dr":0.0046,"case":"a/r=0.5"},{"eta":0.935,"dr":0.0057,"case":"a/r=0.5"},{"eta":0.945,"dr":0.0059,"case":"a/r=0.5"},{"eta":0.955,"dr":0.0072,"case":"a/r=0.5"},{"eta":0.965,"dr":0.0075,"case":"a/r=0.5"},{"eta":0.975,"dr":0.0091,"case":"a/r=0.5"},{"eta":0.995,"dr":0.0113,"case":"a/r=0.5"},{"eta":1.005,"dr":0.0105,"case":"a/r=0.5"},{"eta":1.015,"dr":0.0098,"case":"a/r=0.5"},{"eta":1.025,"dr":0.0101,"case":"a/r=0.5"},{"eta":1.035,"dr":0.0086,"case":"a/r=0.5"},{"eta":1.045,"dr":0.0084,"case":"a/r=0.5"},{"eta":1.055,"dr":0.0071,"case":"a/r=0.5"},{"eta":1.065,"dr":0.0069,"case":"a/r=0.5"},{"eta":1.075,"dr":0.0063,"case":"a/r=0.5"},{"eta":1.085,"dr":0.0056,"case":"a/r=0.5"},{"eta":1.095,"dr":0.0057,"case":"a/r=0.5"},{"eta":1.105,"dr":0.0049,"case":"a/r=0.5"},{"eta":1.115,"dr":0.005,"case":"a/r=0.5"},{"eta":1.125,"dr":0.0042,"case":"a/r=0.5"},{"eta":1.135,"dr":0.0043,"case":"a/r=0.5"},{"eta":1.145,"dr":0.0037,"case":"a/r=0.5"},{"eta":1.155,"dr":0.0039,"case":"a/r=0.5"},{"eta":1.165,"dr":0.0034,"case":"a/r=0.5"},{"eta":1.175,"dr":0.0036,"case":"a/r=0.5"},{"eta":1.185,"dr":0.0032,"case":"a/r=0.5"},{"eta":1.195,"dr":0.0034,"case":"a/r=0.5"},
      {"eta":1.22,"dr":0.0031,"case":"a/r=0.5"},{"eta":1.24,"dr":0.00295,"case":"a/r=0.5"},{"eta":1.26,"dr":0.0028,"case":"a/r=0.5"},{"eta":1.28,"dr":0.00268,"case":"a/r=0.5"},{"eta":1.3,"dr":0.0026,"case":"a/r=0.5"},{"eta":1.32,"dr":0.00248,"case":"a/r=0.5"},{"eta":1.34,"dr":0.00242,"case":"a/r=0.5"},{"eta":1.36,"dr":0.00233,"case":"a/r=0.5"},{"eta":1.38,"dr":0.00229,"case":"a/r=0.5"},{"eta":1.4,"dr":0.0022,"case":"a/r=0.5"},{"eta":1.42,"dr":0.00217,"case":"a/r=0.5"},{"eta":1.44,"dr":0.0021,"case":"a/r=0.5"},{"eta":1.46,"dr":0.00207,"case":"a/r=0.5"},{"eta":1.48,"dr":0.002,"case":"a/r=0.5"},{"eta":1.5,"dr":0.00198,"case":"a/r=0.5"},{"eta":1.52,"dr":0.00192,"case":"a/r=0.5"},{"eta":1.54,"dr":0.0019,"case":"a/r=0.5"},{"eta":1.56,"dr":0.00184,"case":"a/r=0.5"},{"eta":1.58,"dr":0.00182,"case":"a/r=0.5"},{"eta":1.6,"dr":0.00176,"case":"a/r=0.5"},{"eta":1.62,"dr":0.00175,"case":"a/r=0.5"},{"eta":1.64,"dr":0.0017,"case":"a/r=0.5"},{"eta":1.66,"dr":0.00169,"case":"a/r=0.5"},{"eta":1.68,"dr":0.00165,"case":"a/r=0.5"},{"eta":1.7,"dr":0.00165,"case":"a/r=0.5"},{"eta":1.72,"dr":0.00161,"case":"a/r=0.5"},{"eta":1.74,"dr":0.00161,"case":"a/r=0.5"},{"eta":1.76,"dr":0.00157,"case":"a/r=0.5"},{"eta":1.78,"dr":0.00157,"case":"a/r=0.5"},{"eta":1.8,"dr":0.00154,"case":"a/r=0.5"},{"eta":1.82,"dr":0.00154,"case":"a/r=0.5"},{"eta":1.84,"dr":0.00151,"case":"a/r=0.5"},{"eta":1.86,"dr":0.00151,"case":"a/r=0.5"},{"eta":1.88,"dr":0.00148,"case":"a/r=0.5"},{"eta":1.9,"dr":0.00149,"case":"a/r=0.5"},{"eta":1.92,"dr":0.00146,"case":"a/r=0.5"},{"eta":1.94,"dr":0.00146,"case":"a/r=0.5"},{"eta":1.96,"dr":0.00144,"case":"a/r=0.5"},{"eta":1.98,"dr":0.00145,"case":"a/r=0.5"},{"eta":2,"dr":0.00142,"case":"a/r=0.5"},
      {"eta":1.21,"dr":0.00318,"case":"a/r=0.5"},{"eta":1.23,"dr":0.003,"case":"a/r=0.5"},{"eta":1.27,"dr":0.00276,"case":"a/r=0.5"},{"eta":1.29,"dr":0.00262,"case":"a/r=0.5"},{"eta":1.31,"dr":0.00255,"case":"a/r=0.5"},{"eta":1.33,"dr":0.00245,"case":"a/r=0.5"},{"eta":1.35,"dr":0.00238,"case":"a/r=0.5"},{"eta":1.37,"dr":0.0023,"case":"a/r=0.5"},{"eta":1.39,"dr":0.00224,"case":"a/r=0.5"},{"eta":1.41,"dr":0.00219,"case":"a/r=0.5"},{"eta":1.43,"dr":0.00213,"case":"a/r=0.5"},{"eta":1.45,"dr":0.00208,"case":"a/r=0.5"},{"eta":1.47,"dr":0.00203,"case":"a/r=0.5"},{"eta":1.49,"dr":0.00199,"case":"a/r=0.5"},{"eta":1.51,"dr":0.00195,"case":"a/r=0.5"},{"eta":1.53,"dr":0.00191,"case":"a/r=0.5"},{"eta":1.55,"dr":0.00187,"case":"a/r=0.5"},{"eta":1.57,"dr":0.00183,"case":"a/r=0.5"},{"eta":1.59,"dr":0.00179,"case":"a/r=0.5"},{"eta":1.61,"dr":0.00176,"case":"a/r=0.5"},{"eta":1.63,"dr":0.00172,"case":"a/r=0.5"},{"eta":1.65,"dr":0.0017,"case":"a/r=0.5"},{"eta":1.67,"dr":0.00167,"case":"a/r=0.5"},{"eta":1.69,"dr":0.00165,"case":"a/r=0.5"},{"eta":1.71,"dr":0.00163,"case":"a/r=0.5"},{"eta":1.73,"dr":0.00161,"case":"a/r=0.5"},{"eta":1.75,"dr":0.00159,"case":"a/r=0.5"},{"eta":1.77,"dr":0.00157,"case":"a/r=0.5"},{"eta":1.79,"dr":0.00155,"case":"a/r=0.5"},{"eta":1.81,"dr":0.00154,"case":"a/r=0.5"},{"eta":1.83,"dr":0.00152,"case":"a/r=0.5"},{"eta":1.85,"dr":0.00151,"case":"a/r=0.5"},{"eta":1.87,"dr":0.00149,"case":"a/r=0.5"},{"eta":1.89,"dr":0.00148,"case":"a/r=0.5"},{"eta":1.91,"dr":0.00147,"case":"a/r=0.5"},{"eta":1.93,"dr":0.00146,"case":"a/r=0.5"},{"eta":1.95,"dr":0.00145,"case":"a/r=0.5"},{"eta":1.97,"dr":0.00144,"case":"a/r=0.5"},{"eta":1.99,"dr":0.00143,"case":"a/r=0.5"},
      {"eta":1.27,"dr":0.00288,"case":"a/r=0.5"},{"eta":1.35,"dr":0.00252,"case":"a/r=0.5"},{"eta":1.45,"dr":0.00218,"case":"a/r=0.5"},{"eta":1.55,"dr":0.00196,"case":"a/r=0.5"},{"eta":1.65,"dr":0.00178,"case":"a/r=0.5"},{"eta":1.75,"dr":0.00167,"case":"a/r=0.5"},{"eta":1.85,"dr":0.00158,"case":"a/r=0.5"},{"eta":1.95,"dr":0.00152,"case":"a/r=0.5"},
      {"eta":0.997,"dr":0.014,"case":"a/r=0.5"},{"eta":1.015,"dr":0.01393,"case":"a/r=0.5"},{"eta":1.037,"dr":0.01368,"case":"a/r=0.5"},{"eta":1.027,"dr":0.01346,"case":"a/r=0.5"},{"eta":1,"dr":0.01285,"case":"a/r=0.5"},{"eta":1.027,"dr":0.01277,"case":"a/r=0.5"},{"eta":0.972,"dr":0.01259,"case":"a/r=0.5"},{"eta":1.02,"dr":0.01253,"case":"a/r=0.5"},{"eta":1.02,"dr":0.0123,"case":"a/r=0.5"},{"eta":0.993,"dr":0.01196,"case":"a/r=0.5"},{"eta":1.018,"dr":0.01203,"case":"a/r=0.5"},{"eta":1.012,"dr":0.01169,"case":"a/r=0.5"},{"eta":0.997,"dr":0.01146,"case":"a/r=0.5"},{"eta":1.034,"dr":0.01104,"case":"a/r=0.5"},{"eta":1.015,"dr":0.01059,"case":"a/r=0.5"},{"eta":0.98,"dr":0.01032,"case":"a/r=0.5"},{"eta":1.045,"dr":0.0098,"case":"a/r=0.5"},{"eta":0.965,"dr":0.0098,"case":"a/r=0.5"},{"eta":1.005,"dr":0.0091,"case":"a/r=0.5"},{"eta":1.06,"dr":0.0085,"case":"a/r=0.5"},{"eta":0.955,"dr":0.0078,"case":"a/r=0.5"},{"eta":1.07,"dr":0.0072,"case":"a/r=0.5"},{"eta":0.95,"dr":0.0069,"case":"a/r=0.5"},{"eta":1.08,"dr":0.0067,"case":"a/r=0.5"},{"eta":0.94,"dr":0.0063,"case":"a/r=0.5"},{"eta":1.1,"dr":0.0058,"case":"a/r=0.5"},{"eta":0.93,"dr":0.0059,"case":"a/r=0.5"},{"eta":1.09,"dr":0.0062,"case":"a/r=0.5"},{"eta":1.12,"dr":0.0048,"case":"a/r=0.5"},{"eta":0.92,"dr":0.0051,"case":"a/r=0.5"},{"eta":1.14,"dr":0.0042,"case":"a/r=0.5"},{"eta":1.16,"dr":0.0039,"case":"a/r=0.5"},{"eta":0.91,"dr":0.0046,"case":"a/r=0.5"},{"eta":1.25,"dr":0.003,"case":"a/r=0.5"},{"eta":1.33,"dr":0.0025,"case":"a/r=0.5"},{"eta":0.985,"dr":0.0098,"case":"a/r=0.5"},{"eta":1.04,"dr":0.0092,"case":"a/r=0.5"},{"eta":1.025,"dr":0.0088,"case":"a/r=0.5"},{"eta":0.96,"dr":0.0089,"case":"a/r=0.5"},{"eta":0.97,"dr":0.0097,"case":"a/r=0.5"},{"eta":0.99,"dr":0.0088,"case":"a/r=0.5"},{"eta":1,"dr":0.0101,"case":"a/r=0.5"},{"eta":1.01,"dr":0.0096,"case":"a/r=0.5"},{"eta":1.03,"dr":0.0103,"case":"a/r=0.5"},{"eta":1.05,"dr":0.0093,"case":"a/r=0.5"},{"eta":1.055,"dr":0.0088,"case":"a/r=0.5"},{"eta":0.975,"dr":0.0104,"case":"a/r=0.5"},{"eta":1.065,"dr":0.0079,"case":"a/r=0.5"},{"eta":1,"dr":0.0082,"case":"a/r=0.5"},{"eta":0.99,"dr":0.0118,"case":"a/r=0.5"},{"eta":1.04,"dr":0.0105,"case":"a/r=0.5"},{"eta":1.045,"dr":0.0112,"case":"a/r=0.5"},{"eta":0.96,"dr":0.0103,"case":"a/r=0.5"},
      {"eta":0.955,"dr":0.0083,"case":"a/r=0.5"},{"eta":0.965,"dr":0.0088,"case":"a/r=0.5"},{"eta":0.975,"dr":0.0086,"case":"a/r=0.5"},{"eta":0.985,"dr":0.0107,"case":"a/r=0.5"},{"eta":1,"dr":0.0108,"case":"a/r=0.5"},{"eta":1.01,"dr":0.0103,"case":"a/r=0.5"},{"eta":1.02,"dr":0.0094,"case":"a/r=0.5"},{"eta":1.03,"dr":0.0091,"case":"a/r=0.5"},{"eta":1.035,"dr":0.0099,"case":"a/r=0.5"},{"eta":1.05,"dr":0.0085,"case":"a/r=0.5"},{"eta":1.06,"dr":0.0078,"case":"a/r=0.5"},{"eta":1.07,"dr":0.0069,"case":"a/r=0.5"},{"eta":1.075,"dr":0.0059,"case":"a/r=0.5"},{"eta":1.085,"dr":0.0064,"case":"a/r=0.5"},{"eta":1.1,"dr":0.0054,"case":"a/r=0.5"},{"eta":1.11,"dr":0.0053,"case":"a/r=0.5"},{"eta":0.945,"dr":0.0066,"case":"a/r=0.5"},{"eta":0.935,"dr":0.0053,"case":"a/r=0.5"},{"eta":0.925,"dr":0.0049,"case":"a/r=0.5"},{"eta":0.915,"dr":0.0042,"case":"a/r=0.5"},{"eta":1.13,"dr":0.0046,"case":"a/r=0.5"},{"eta":1.15,"dr":0.0041,"case":"a/r=0.5"},{"eta":1.17,"dr":0.0038,"case":"a/r=0.5"},{"eta":1.19,"dr":0.0036,"case":"a/r=0.5"}
    ]
  },
  "mark": {"type": "point", "filled": true, "size": 44, "opacity": 1, "strokeWidth": 0, "clip": false},
  "encoding": {
    "x": {
      "field": "eta",
      "type": "quantitative",
      "scale": {"domain": [0, 2], "nice": false, "zero": false},
      "axis": {
        "values": [0, 0.2, 0.4, 0.6, 0.8, 1, 1.2, 1.4, 1.6, 1.8, 2],
        "format": "~g",
        "labelPadding": 8,
        "title": "Rotação  η=Ω/ω₀",
        "titlePadding": 6
      }
    },
    "y": {
      "field": "dr",
      "type": "quantitative",
      "scale": {"domain": [0, 0.014], "nice": false},
      "axis": {
        "values": [0, 0.002, 0.004, 0.006, 0.008, 0.01, 0.012, 0.014],
        "format": "~g",
        "labelPadding": 6,
        "title": "Deslocamento Radial Máximo Δr [m]",
        "titlePadding": 12
      }
    },
    "fill": {
      "field": "case",
      "type": "nominal",
      "scale": {"domain": ["a/r=0", "a/r=0.3", "a/r=0.5"], "range": ["#0000ff", "#008000", "#ff0000"]},
      "legend": {
        "title": null,
        "orient": "top-right",
        "offset": 7,
        "fillColor": "white",
        "strokeColor": "black",
        "padding": 8,
        "symbolType": "M-1,0H5",
        "symbolSize": 289,
        "symbolStrokeWidth": 1,
        "labelOffset": 42,
        "rowPadding": 6
      }
    },
    "stroke": {
      "field": "case",
      "type": "nominal",
      "scale": {"domain": ["a/r=0", "a/r=0.3", "a/r=0.5"], "range": ["#0000ff", "#008000", "#ff0000"]},
      "legend": {
        "title": null,
        "orient": "top-right",
        "offset": 7,
        "fillColor": "white",
        "strokeColor": "black",
        "padding": 8,
        "symbolType": "M-1,0H5",
        "symbolSize": 289,
        "symbolStrokeWidth": 1,
        "labelOffset": 42,
        "rowPadding": 6
      }
    }
  }
}
